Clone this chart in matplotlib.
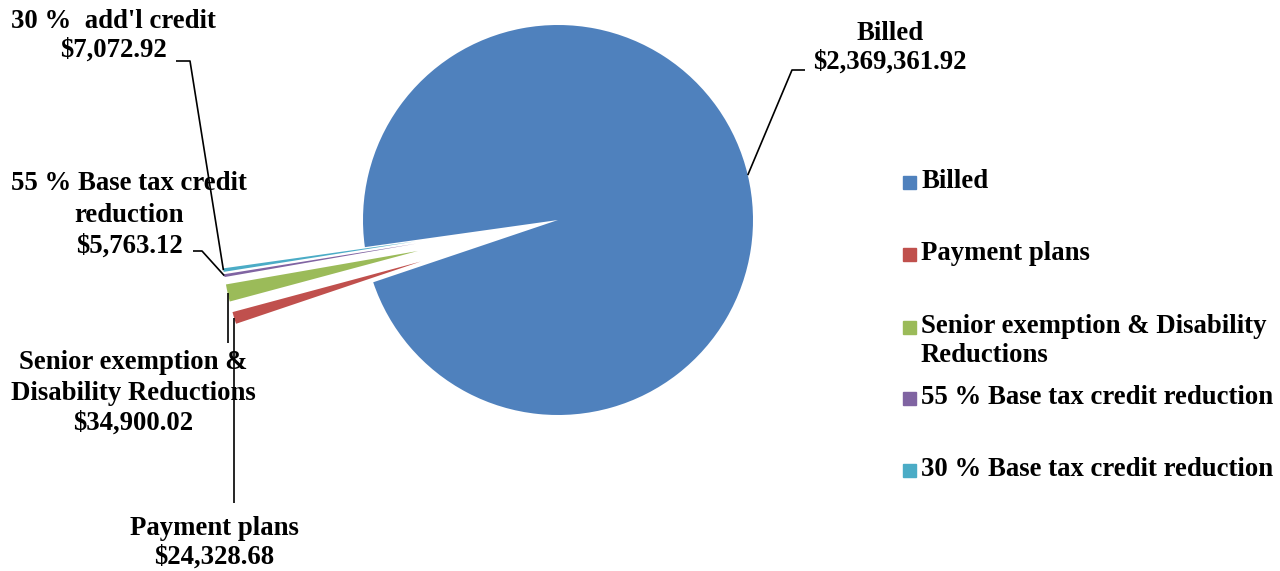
import numpy as np
import matplotlib
matplotlib.use("Agg")
import matplotlib.pyplot as plt
from matplotlib.patches import Rectangle

labels = ["Billed", "Payment plans", "Senior exemption & Disability\nReductions",
          "55 % Base tax credit reduction", "30 % Base tax credit reduction"]
values = [2369361.92, 24328.68, 34900.02, 5763.12, 7072.92]
slice_labels = ["Billed", "Payment plans", "Senior exemption &\nDisability Reductions",
                "55 % Base tax credit\nreduction", "30 %  add'l credit"]
colors = ["#4F81BD", "#C0504D", "#9BBB59", "#8064A2", "#4BACC6"]

W, H = 1280, 571
CX, CY, R = 558, 220, 195          # pie centre / radius in pixels (from top)
FONT = dict(family="Liberation Serif", weight="bold", size=19.3)

fig = plt.figure(figsize=(W / 100, H / 100), dpi=100)
ax = fig.add_axes([0, 0, 1, 1])

wedges, _ = ax.pie(values, colors=colors, startangle=188, counterclock=False,
                   explode=[0, 0.735, 0.735, 0.735, 0.735],
                   wedgeprops=dict(linewidth=0))
ax.set_xlim(-CX / R, (W - CX) / R)
ax.set_ylim(-(H - CY) / R, CY / R)
ax.set_aspect("auto")
ax.axis("off")


def px(x, y):
    return (x - CX) / R, (CY - y) / R


def anchor(w):
    mid = np.deg2rad((w.theta1 + w.theta2) / 2)
    return w.center[0] + w.r * np.cos(mid), w.center[1] + w.r * np.sin(mid)


# label text centre (px), line spacing and leader path (px) from the wedge outwards
layout = [
    ((890, 48), 1.22, [(792, 70), (805, 70)]),
    ((214, 543), 1.22, [None, (233, 503)]),
    ((133, 393), 1.28, [None, (229, 343)]),
    ((129, 215), 1.32, [(202, 251), (193, 251)]),
    ((113, 36), 1.22, [(190, 61), (176, 61)]),
]

for i, (w, (tpos, ls, path)) in enumerate(zip(wedges, layout)):
    ax0, ay0 = anchor(w)
    pts = [(ax0, ay0)]
    for p in path:
        if p is None:
            continue
        pts.append(px(*p))
    if path[0] is None:
        pts[-1] = (ax0, pts[-1][1])
    ax.plot([p[0] for p in pts], [p[1] for p in pts], color="black", lw=1.2,
            solid_capstyle="butt")
    txt = "%s\n$%s" % (slice_labels[i], format(values[i], ",.2f"))
    ax.text(*px(*tpos), txt, ha="center", va="center", linespacing=ls, **FONT)

# legend
rows = [182, 254, 341, 398, 470]
squares = [182, 254, 327, 398, 470]
for lab, col, y, sy in zip(labels, colors, rows, squares):
    fig.patches.append(Rectangle((903 / W, 1 - (sy + 6.5) / H), 13 / W, 13 / H,
                                 transform=fig.transFigure, color=col))
    fig.text(921 / W, 1 - y / H, lab, ha="left", va="center",
             linespacing=1.22, **FONT)

fig.savefig("out.png", dpi=100)
